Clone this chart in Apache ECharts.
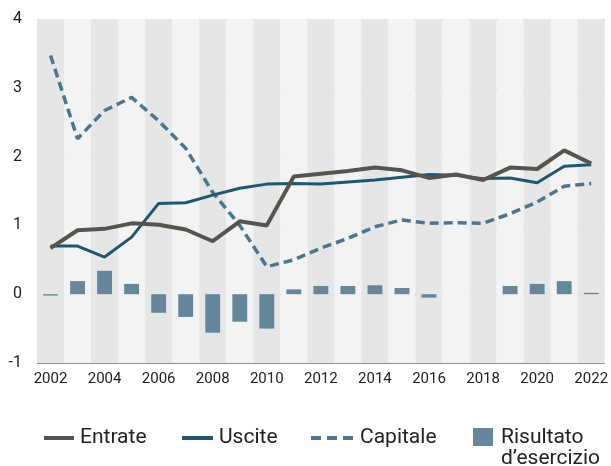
<!DOCTYPE html>
<html>
<head>
<meta charset="utf-8">
<script src="https://cdn.jsdelivr.net/npm/echarts@6/dist/echarts.min.js"></script>
<style>
  html, body { margin: 0; padding: 0; background: #ffffff; }
  #chart { width: 611px; height: 466px; }
</style>
</head>
<body>
<div id="chart"></div>
<script>
// Anni
const years = ['2002','2003','2004','2005','2006','2007','2008','2009','2010','2011','2012',
               '2013','2014','2015','2016','2017','2018','2019','2020','2021','2022'];

// Serie (miliardi)
const entrate   = [0.67, 0.93, 0.95, 1.03, 1.01, 0.94, 0.77, 1.06, 1.00, 1.71, 1.75,
                   1.79, 1.84, 1.80, 1.69, 1.74, 1.66, 1.84, 1.82, 2.09, 1.90];
const uscite    = [0.70, 0.70, 0.54, 0.83, 1.32, 1.33, 1.44, 1.54, 1.60, 1.61, 1.60,
                   1.63, 1.66, 1.70, 1.74, 1.73, 1.68, 1.69, 1.62, 1.86, 1.88];
const capitale  = [3.47, 2.26, 2.67, 2.86, 2.52, 2.12, 1.48, 1.00, 0.40, 0.50, 0.67,
                   0.81, 0.98, 1.08, 1.03, 1.04, 1.03, 1.17, 1.34, 1.57, 1.61];
const risultato = [-0.02, 0.19, 0.34, 0.15, -0.27, -0.33, -0.56, -0.40, -0.50, 0.07, 0.12,
                   0.12, 0.13, 0.09, -0.05, 0.00, 0.00, 0.12, 0.15, 0.19, 0.02];

// Etichette dell'asse y
const yTicks = [-1, 0, 1, 2, 3, 4];

const C_ENTRATE = '#57544d';
const C_USCITE = '#1d5870';
const C_CAPITALE = '#4b7690';
const C_RISULTATO = '#64879c';
const FONT = 'Roboto, "Noto Sans", sans-serif';

const chart = echarts.init(document.getElementById('chart'), null, { renderer: 'canvas' });

const legendFont = { fontFamily: FONT, fontSize: 21, fill: '#222222' };

chart.setOption({
  animation: false,
  backgroundColor: '#ffffff',
  grid: { left: 37, right: 3, top: 19, bottom: 103, containLabel: false },
  xAxis: {
    type: 'category',
    data: years,
    boundaryGap: true,
    axisLine: { show: false },
    axisTick: { show: false, interval: 0 },
    axisLabel: {
      interval: 1,
      color: '#222222',
      fontFamily: FONT,
      fontSize: 15,
      margin: 9
    },
    splitLine: { show: false },
    splitArea: {
      show: true,
      interval: 0,
      areaStyle: { color: ['#e6e6e6', '#f3f3f3'] }
    }
  },
  yAxis: {
    type: 'value',
    min: yTicks[0],
    max: yTicks[yTicks.length - 1],
    interval: 1,
    axisLine: { show: false },
    axisTick: { show: false },
    axisLabel: {
      color: '#222222',
      fontFamily: FONT,
      fontSize: 16,
      margin: 15
    },
    splitLine: { show: true, lineStyle: { color: '#7d96a8', width: 1 } }
  },
  series: [
    {
      name: "Risultato d’esercizio",
      type: 'bar',
      data: risultato,
      barWidth: '55%',
      itemStyle: { color: C_RISULTATO },
      z: 2
    },
    {
      name: 'Capitale',
      type: 'line',
      data: capitale,
      symbol: 'none',
      lineStyle: { color: C_CAPITALE, width: 3.5, type: [9, 5] },
      z: 3
    },
    {
      name: 'Uscite',
      type: 'line',
      data: uscite,
      symbol: 'none',
      lineStyle: { color: C_USCITE, width: 3 },
      z: 4
    },
    {
      name: 'Entrate',
      type: 'line',
      data: entrate,
      symbol: 'none',
      lineStyle: { color: C_ENTRATE, width: 4 },
      z: 5
    }
  ],
  graphic: [
    // Legenda
    { type: 'line', shape: { x1: 44, y1: 438, x2: 74, y2: 438 }, style: { stroke: C_ENTRATE, lineWidth: 4 } },
    { type: 'text', x: 80, y: 438, style: Object.assign({ text: 'Entrate', verticalAlign: 'middle' }, legendFont) },
    { type: 'line', shape: { x1: 182, y1: 438, x2: 213, y2: 438 }, style: { stroke: C_USCITE, lineWidth: 4 } },
    { type: 'text', x: 219, y: 438, style: Object.assign({ text: 'Uscite', verticalAlign: 'middle' }, legendFont) },
    { type: 'line', shape: { x1: 311, y1: 438, x2: 354, y2: 438 }, style: { stroke: C_CAPITALE, lineWidth: 4, lineDash: [10, 6] } },
    { type: 'text', x: 360, y: 438, style: Object.assign({ text: 'Capitale', verticalAlign: 'middle' }, legendFont) },
    { type: 'rect', shape: { x: 473, y: 428, width: 20, height: 18 }, style: { fill: C_RISULTATO } },
    { type: 'text', x: 501, y: 427, style: Object.assign({ text: 'Risultato\nd’esercizio', verticalAlign: 'top', lineHeight: 21 }, legendFont) }
  ]
});
</script>
</body>
</html>
